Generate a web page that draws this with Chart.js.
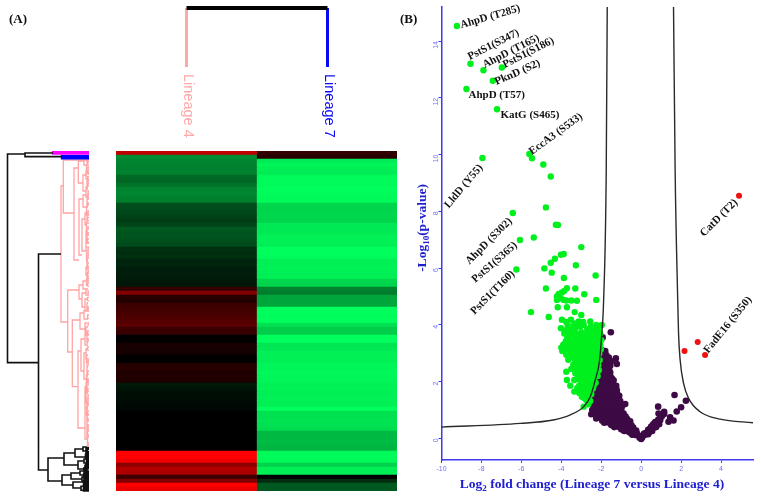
<!DOCTYPE html>
<html>
<head>
<meta charset="utf-8">
<title>Lineage 7 vs Lineage 4</title>
<script src="https://cdn.jsdelivr.net/npm/chart.js@4/dist/chart.umd.min.js"></script>
<style>
  html, body { margin: 0; background: #fff; }
  canvas { position: absolute; }
</style>
</head>
<body>
<canvas id="heat" width="281" height="340" style="left:116px;top:151px"></canvas>
<canvas id="rowTree" width="90" height="342" style="left:2px;top:151px"></canvas>
<canvas id="colTree" width="170" height="145" style="left:175px;top:0"></canvas>
<canvas id="volcano" width="361" height="499" style="left:400px;top:0"></canvas>
<canvas id="panelA" width="40" height="40" style="left:0;top:0"></canvas>
<script>
// heatmap rows: + is red, - is green
const lineage4 = [190,-140,-132,-130,-128,-130,-105,-102,-115,-130,-135,-130,-125,-78,-75,-72,-65,-60,-70,-90,-85,-85,-80,-75,-50,-45,-50,-35,-38,-30,-30,-28,-25,-22,
  55,130,40,35,60,65,70,75,85,90,60,55,0,0,25,22,20,0,0,35,40,30,35,30,-25,-20,-12,-15,-12,-10,-8,0,0,0,0,0,0,0,0,0,0,255,255,240,140,180,170,60,130,255,235];
const lineage7 = [50,40,-235,-245,-240,-235,-250,-252,-250,-255,-252,-250,-250,-215,-212,-215,-215,-212,-232,-232,-234,-240,-240,-238,-255,-255,-252,-240,-240,-242,-238,-240,-215,-212,
  -130,-125,-165,-165,-168,-255,-255,-252,-255,-225,-205,-205,-255,-255,-230,-232,-240,-240,-238,-245,-245,-248,-245,-245,-240,-242,-238,-240,-240,-240,-255,-225,-225,-228,-225,-222,-185,-185,-188,-185,-182,-250,-252,-248,-210,-240,-240,0,-45,-90,-88];
const columnNames = ['Lineage 4', 'Lineage 7'];

// row dendrogram nodes: [height, top row, bottom row, top child height, bottom child height]
const blackNodes = [[81.5,.75,52.9,64,50.5],[64,.5,1.4,36,27],[50.5,25.75,79.75,28,41],[41,76.75,82.5,25,27],[25,75.5,78.5,14,11],
  [14,74.5,76.5,6,3],[11,77.5,79.5,5,2],[6,74,75,2,1],[3,76,77,1,0],[5,77,78,1,0],[2,79,80.5,1,0],[27,81,83.5,18,16],[18,80.5,82,9,7],[16,82.75,84.25,5,8],
  [9,80,81,4,1],[7,81.5,82.5,3,1],[8,83.8,84.8,3,1],[5,82.4,83.2,2,1],[4,79.6,80.4,2,0],[3,74.2,75.2,0,0],[2,75.4,76.2,0,0],[2,76.4,77.4,0,0],[3,78.2,79,0,0],
  [4,80.2,81.4,0,0],[3.5,81.2,82.4,0,0],[4,82.2,83.2,0,0],[3.5,83,84,0,0],[4,83.6,84.8,0,0],[3,84,84.9,0,0],[2.5,77.6,78.8,0,0],[2,80.6,81.6,0,0],
  [3,74.6,75.6,0,0],[3.5,75.8,76.8,0,0],[2.5,77,77.8,0,0],[4,78.6,79.4,0,0],[5,79.2,80,0,0],[5,80,80.8,0,0],[5.5,80.8,81.6,0,0],[5,81.6,82.4,0,0],
  [5.5,82.6,83.4,0,0],[5,83.4,84.2,0,0],[5.5,84.2,85,0,0],[5,80.4,81.2,0,0],[4.5,82,82.8,0,0],[4.5,83.2,84,0,0],[4.5,84,84.6,0,0]];
const pinkNodes = [[28,8.75,42.75,25.7,21.3],[25.7,2.25,15.5,1,15],[15,4.25,27.25,10.7,10],[10.7,2.5,8,5,6],[5,1.75,3.5,1,2],[6,6,10,2,3],[10,12,26,6,7],
  [6,11,14,3,2],[7,17,25,4,3],[4,15.5,18.5,1,2],[3,20,24,1,2],[21.3,34.75,50.25,10,16.7],[10,33.5,37,6,7],[6,32.5,34.5,3,2],[7,35.5,39,3,4],[3,34.5,36,1,0],
  [4,37,40,2,1],[16.7,42.25,58.9,9,11],[9,40.5,44.5,5,4],[5,40,42,2,1],[4,43,46,2,1],[11,50,69.25,8,4],[8,47,55,4,5],[4,45.5,48.5,2,1],[5,50.5,57,3,2],
  [3,49.5,52,1,0],[2,54,58,1,0],[4,59,72,3,2],[3,58,63,1,2],[2,65,70,1,0],[1.5,69,74,0,1],[2,1.5,3,0,1],[2.5,3.5,5.5,1,0],[3,5,7,1,0],[2,7.5,9.5,0,1],
  [3,9,11.5,1,0],[2,12,14,0,1],[2.5,14,16,1,0],[2,16,18,0,1],[2.5,18,20.5,0,1],[2,21,23,1,0],[3,23,25,1,0],[2.5,25.5,27.5,0,1],[2,27,29.5,1,0],[3,29,31,0,1],
  [2,30.5,32.5,1,0],[2.5,32,33.5,0,1],[2,38,40,1,0],[3,44,46,1,0],[2,46,48,0,1],[2.5,51,53,1,0],[2,53.5,55.5,0,1],[2.5,56,58,1,0],[2,58.5,60.5,0,1],[3,60,62,1,0],
  [2,62.5,64.5,0,1],[2.5,64,66,1,0],[2,66.5,68.5,1,0],[2,70,72,0,1],[1.5,72,74,1,0],
  [1,2,2.6,0,0],[1.5,2.8,3.4,0,0],[1,4,4.8,0,0],[1,5.2,5.8,0,0],[1.5,6.4,7.2,0,0],[1,8,8.8,0,0],[1,10,10.6,0,0],[1.5,11,11.8,0,0],[1,13,13.6,0,0],[1,15,15.8,0,0],
  [1.5,16.6,17.4,0,0],[1,19,19.6,0,0],[1,20.4,21,0,0],[1.5,22,22.8,0,0],[1,24,24.6,0,0],[1,26,26.8,0,0],[1.5,28,28.8,0,0],[1,30,30.6,0,0],[1,31.2,32,0,0],[1.5,33,33.8,0,0],
  [1,35,35.6,0,0],[1.5,36.6,37.4,0,0],[1,39,39.6,0,0],[1.5,41,41.8,0,0],[1,43,43.6,0,0],[1.5,45,45.8,0,0],[1,47,47.6,0,0],[1.5,49,49.8,0,0],[1,52.4,53,0,0],[1.5,55,55.8,0,0],
  [1,57,57.6,0,0],[1.5,59.4,60,0,0],[1,61,61.8,0,0],[1,63,63.6,0,0],[1.5,65,65.8,0,0],[1,67,67.6,0,0],[1,69,69.8,0,0],[1,71,71.6,0,0],[1,73,73.6,0,0]];
const magentaNodes = [[36,.1,.65,0,0]];
const blueNodes = [[27,1.3,1.8,0,0]];

// volcano plot, [log2 fold change, -log10 p]
const greenPoints = [[-9.23,14.53],[-8.55,13.2],[-7.9,12.97],[-6.98,13.07],[-7.43,12.6],[-8.75,12.31],[-7.22,11.6],[-5.6,10.02],[-5.47,9.87],[-4.9,9.65],[-7.95,9.88],
  [-4.53,9.23],[-4.77,8.14],[-6.43,7.94],[-4.27,7.53],[-4.17,7.52],[-5.38,7.08],[-6.07,6.99],[-3,6.74],[-3.88,6.5],[-4.02,6.47],[-4.32,6.33],[-4.53,6.19],[-3.27,6.1],
  [-4.85,5.99],[-6.25,5.95],[-4.48,5.84],[-2.28,5.74],[-3.87,5.65],[-4.77,5.28],[-3.3,5.28],[-3.72,5.29],[-3.85,5.2],[-3.97,5.14],[-4.13,5.09],[-4.22,5],[-4.05,4.94],
  [-3.88,4.88],[-4.22,4.88],[-3.75,4.86],[-3.5,4.86],[-3.22,4.85],[-2.85,5.08],[-2.25,4.88],[-4.18,4.62],[-3.72,4.62],[-3.33,4.45],[-5.52,4.45],[-4.63,4.28],[-3,4.35],
  [-3.97,4.18],[-3.52,4.18],[-3.13,4.12],[-2.55,4.12],[-2.25,4],[-1.97,4],[-3.68,3.96],[-4.02,3.88],[-3.55,3.82],[-3.3,3.88],[-3.05,3.94],[-2.88,4],[-2.52,3.94],
  [-3.85,3.7],[-3.5,3.72],[-3.25,3.68],[-3,3.74],[-2.75,3.7],[-2.5,3.72],[-2.25,3.66],[-2.05,3.7],[-3.7,3.52],[-3.4,3.48],[-3.15,3.54],[-2.9,3.5],[-2.65,3.46],[-2.4,3.52],[-2.15,3.5],[-2,3.47],
  [-3.9,3.3],[-3.6,3.32],[-3.3,3.28],[-3.05,3.34],[-2.8,3.3],[-2.55,3.26],[-2.3,3.32],[-2.05,3.3],[-4,3.2],[-3.95,3.08],[-3.55,3.1],[-3.25,3.14],[-3,3.06],[-2.75,3.12],[-2.5,3.08],[-2.25,3.1],[-2.02,3.14],
  [-3.75,2.95],[-3.45,2.92],[-3.2,2.98],[-2.9,2.94],[-2.65,2.9],[-2.4,2.96],[-2.15,2.94],[-3.65,2.77],[-3.3,2.8],[-3.05,2.76],[-2.8,2.82],[-2.55,2.78],[-2.3,2.8],[-2.08,2.76],
  [-3.4,2.6],[-3.15,2.64],[-2.9,2.58],[-2.65,2.62],[-2.4,2.6],[-2.15,2.58],[-3.5,2.45],[-3.25,2.42],[-3,2.47],[-2.75,2.44],[-2.5,2.42],[-2.25,2.46],[-2.12,2.4],
  [-3.75,2.35],[-3.3,2.3],[-3.05,2.28],[-2.8,2.32],[-2.55,2.27],[-2.3,2.3],[-3.1,2.15],[-2.85,2.12],[-2.6,2.17],[-2.35,2.14],[-2.18,2.2],[-3.72,2.06],[-3.35,2.06],[-3,2],[-2.75,1.97],[-2.5,2.02],[-2.28,1.96],
  [-3.55,1.86],[-3.1,1.87],[-2.85,1.84],[-2.6,1.82],[-2.38,1.86],[-3.35,1.65],[-3,1.7],[-2.75,1.68],[-2.5,1.72],[-2.97,1.47],[-2.7,1.52],[-2.5,1.56],[-2.75,1.35],[-2.55,1.32],[-2.88,1.12],[-2.65,1.2],
  [-3.7,3.62],[-3.42,3.62],[-3.12,3.6],[-2.87,3.62],[-2.62,3.6],[-2.37,3.62],[-2.13,3.6],[-3.78,3.42],[-3.52,3.4],[-3.25,3.42],[-2.98,3.4],[-2.72,3.42],[-2.47,3.4],[-2.22,3.42],
  [-3.75,3.2],[-3.45,3.2],[-3.15,3.22],[-2.92,3.2],[-2.67,3.2],[-2.42,3.22],[-2.17,3.2],[-3.7,3.02],[-3.35,3.02],[-3.1,3],[-2.85,3.02],[-2.58,3],[-2.32,3.02],[-2.1,3],
  [-3.55,2.85],[-3.2,2.86],[-2.95,2.85],[-2.7,2.86],[-2.45,2.85],[-2.2,2.86],[-3.3,2.7],[-3,2.7],[-2.75,2.7],[-2.48,2.7],[-2.22,2.68],[-3.3,2.52],[-3.05,2.54],[-2.8,2.52],[-2.55,2.52],[-2.3,2.52],
  [-3.15,2.37],[-2.9,2.38],[-2.65,2.37],[-2.4,2.37],[-3,2.22],[-2.72,2.22],[-2.47,2.22],[-2.25,2.25],[-3.2,2.1],[-2.9,2.06],[-2.65,2.07],[-2.4,2.06],[-2.95,1.92],[-2.7,1.9],[-2.48,1.9],
  [-3.2,1.78],[-2.9,1.76],[-2.65,1.76],[-2.42,1.76],[-3.1,1.6],[-2.85,1.6],[-2.6,1.62],[-2.85,1.42],[-2.62,1.43],[-3.75,4.1],[-3.3,4.05],[-2.9,4.1],[-3.8,3.8],[-3.45,3.95],[-2.7,3.85],[-2.4,3.85],[-2.15,3.85]];
const purplePoints = [[-1.52,3.74],[-1.93,3.56],[-1.27,2.82],[-1.22,2.62],[1.67,1.53],[2.24,1.33],[2,1.1],[1.78,.95],[.85,1.12],[1.15,.94],[-.8,1.21],
  [-1.98,3.12],[-1.8,3.08],[-1.95,2.98],[-1.75,2.94],[-1.9,2.8],[-1.7,2.78],[-1.5,2.72],[-1.95,2.6],[-1.75,2.62],[-1.55,2.56],[-2.05,2.42],[-1.85,2.4],[-1.6,2.41],
  [-2.15,2.22],[-1.95,2.2],[-1.75,2.18],[-1.55,2.2],[-1.47,2.12],[-2.25,2],[-2,2.02],[-1.8,1.98],[-1.6,2.02],[-1.42,1.96],[-2.3,1.8],[-2.1,1.82],[-1.9,1.78],[-1.7,1.82],[-1.5,1.8],[-1.3,1.78],[-1.22,1.7],
  [-2.4,1.6],[-2.2,1.62],[-2,1.58],[-1.8,1.62],[-1.6,1.6],[-1.4,1.58],[-1.2,1.56],[-2.35,1.4],[-2.15,1.42],[-1.95,1.38],[-1.75,1.42],[-1.55,1.4],[-1.35,1.38],[-1.15,1.42],
  [-2.45,1.2],[-2.3,1.22],[-2.1,1.18],[-1.9,1.2],[-1.7,1.22],[-1.5,1.18],[-1.3,1.2],[-1.12,1.22],[-2.45,1],[-2.2,1.02],[-2,.98],[-1.8,1.02],[-1.6,1],[-1.4,1.02],[-1.2,.98],[-1,1],[-.88,.88],
  [-2.5,.85],[-2.3,.84],[-2.1,.86],[-1.85,.83],[-1.65,.86],[-1.45,.84],[-1.25,.86],[-1.05,.84],[-.9,.82],[-2.25,.7],[-2.05,.72],[-1.85,.68],[-1.65,.7],[-1.45,.72],[-1.25,.68],[-1.05,.7],[-.85,.72],[-.7,.68],
  [-1.85,.55],[-1.65,.56],[-1.4,.53],[-1.2,.56],[-1,.54],[-.8,.56],[-.6,.55],[-1.35,.4],[-1.15,.41],[-.95,.38],[-.75,.41],[-.55,.4],[-.4,.38],[-.85,.26],[-.65,.24],[-.45,.27],[-.3,.24],[-.45,.13],[-.3,.12],[-.15,.1],
  [-.08,.02],[0,-.02],[.05,.03],[.1,.1],[.2,.13],[.25,.2],[.4,.22],[.55,.26],[.45,.35],[.6,.37],[.75,.4],[.6,.5],[.75,.52],[.9,.5],[.85,.66],[.95,.64],[.87,.88],[1.15,.86],[1.45,.74],[1.37,.59],[1.62,.63],[1.03,.77],[.95,.74],
  [-1.88,3.02],[-1.8,2.86],[-1.62,2.85],[-1.85,2.7],[-1.62,2.68],[-1.9,2.5],[-1.65,2.5],[-2,2.32],[-1.75,2.3],[-1.55,2.32],[-2.1,2.1],[-1.85,2.1],[-1.65,2.1],[-1.38,2.05],
  [-2.18,1.9],[-2,1.9],[-1.8,1.9],[-1.6,1.9],[-1.4,1.88],[-1.25,1.85],[-2.3,1.7],[-2.1,1.7],[-1.9,1.7],[-1.7,1.7],[-1.5,1.7],[-1.35,1.68],[-2.3,1.5],[-2.1,1.5],[-1.9,1.5],[-1.7,1.5],[-1.5,1.5],[-1.28,1.5],[-1.1,1.5],
  [-2.4,1.3],[-2.25,1.3],[-2.05,1.3],[-1.85,1.3],[-1.65,1.3],[-1.45,1.3],[-1.25,1.3],[-1.05,1.32],[-2.35,1.1],[-2.15,1.1],[-1.95,1.1],[-1.75,1.1],[-1.55,1.1],[-1.35,1.1],[-1.12,1.1],[-.98,1.1],
  [-2.4,.92],[-2.1,.93],[-1.9,.93],[-1.7,.93],[-1.5,.93],[-1.3,.93],[-1.1,.92],[-2.15,.78],[-1.95,.78],[-1.75,.78],[-1.55,.78],[-1.35,.78],[-1.15,.78],[-.95,.78],[-.78,.77],
  [-1.95,.62],[-1.75,.62],[-1.55,.62],[-1.3,.62],[-1.1,.62],[-.9,.62],[-.7,.62],[-.55,.6],[-1.5,.47],[-1.28,.47],[-1.05,.47],[-.85,.47],[-.65,.47],[-.48,.45],[-1,.32],[-.8,.32],[-.6,.32],[-.4,.32],[-.25,.28],
  [-.55,.2],[-.35,.19],[-.2,.16],[.15,.17],[.35,.3],[.5,.42],[.68,.45],[.82,.58],[.7,.58],[.35,.15]];
const redPoints = [[2.17,3.08],[2.83,3.4],[3.2,2.94],[4.9,8.55]];
const leftCurve = [[-1.7,15.2],[-1.75,9.47],[-1.88,4.88],[-1.97,3.72],[-2.08,2.77],[-2.3,2.06],[-2.55,1.47],[-2.88,1.12],[-3.55,.83],[-4.4,.65],[-6.05,.53],[-10,.4]];
const rightCurve = [[1.62,15.2],[1.7,9.47],[1.83,4.88],[1.87,3.72],[1.95,2.77],[2.12,1.95],[2.37,1.42],[2.95,.94],[3.95,.68],[5.6,.55]];

const xTicks = [-10, -8, -6, -4, -2, 0, 2, 4];
const yTicks = [0, 2, 4, 6, 8, 10, 12, 14];

const labelTexts = ['AhpD (T285)', 'PstS1(S347)', 'AhpD (T165)', 'PstS1(S186)', 'PknD (S2)', 'AhpD (T57)', 'KatG (S465)', 'EccA3 (S533)', 'LldD (Y55)', 'AhpD (S302)', 'PstS1(S365)', 'PstS1(T160)', 'CatD (T2)', 'FadE16 (S350)'];
const labelX = [-9.05, -8.65, -7.9, -6.9, -7.3, -8.65, -7.05, -5.55, -9.75, -8.7, -8.4, -8.45, 3.05, 3.25];
const labelY = [14.55, 13.42, 13.14, 13.14, 12.54, 12.11, 11.4, 10.07, 8.16, 6.19, 5.55, 4.42, 7.17, 3.05];
const labelAngle = [-16, -27, -27, -27, -24, 0, 0, -36, -50, -45, -41, -45, -45, -51];

const serif = '"Liberation Serif", serif';
const sans = '"Liberation Sans", sans-serif';

function heatColor(v) {
  if (v >= 0) return `rgb(${v},0,0)`;
  return `rgb(0,${-v},${Math.round(-v * 0.36)})`;
}

function toPath(nodes) {
  const path = [];
  for (const [h, top, bottom, hTop, hBottom] of nodes) {
    path.push({x: hTop, y: top}, {x: h, y: top}, {x: h, y: bottom}, {x: hBottom, y: bottom}, {x: NaN, y: NaN});
  }
  return path;
}

function toXY(pairs) {
  return pairs.map(p => ({x: p[0], y: p[1]}));
}

// text with subscript pieces, centred on (cx, cy)
function drawRuns(ctx, cx, cy, angle, runs, color) {
  ctx.save();
  ctx.translate(cx, cy);
  ctx.rotate(angle * Math.PI / 180);
  ctx.fillStyle = color;
  ctx.textBaseline = 'alphabetic';
  ctx.textAlign = 'left';
  let total = 0;
  for (const r of runs) {
    ctx.font = `bold ${r[1] ? 9 : 13.5}px ${serif}`;
    total += ctx.measureText(r[0]).width;
  }
  let x = -total / 2;
  for (const r of runs) {
    ctx.font = `bold ${r[1] ? 9 : 13.5}px ${serif}`;
    ctx.fillText(r[0], x, r[1] ? 3 : 0);
    x += ctx.measureText(r[0]).width;
  }
  ctx.restore();
}

function flatScale(min, max, reverse) {
  return {type: 'linear', display: false, min: min, max: max, reverse: !!reverse};
}

const common = {
  responsive: false,
  animation: false,
  plugins: {legend: {display: false}, tooltip: {enabled: false}}
};

new Chart(document.getElementById('heat'), {
  type: 'bar',
  data: {
    labels: lineage4.map((v, i) => i),
    datasets: [
      {label: columnNames[0], data: lineage4.map(() => 1), backgroundColor: lineage4.map(heatColor)},
      {label: columnNames[1], data: lineage7.map(() => 1), backgroundColor: lineage7.map(heatColor)}
    ]
  },
  options: {
    ...common,
    indexAxis: 'y',
    layout: {padding: 0},
    barPercentage: 1,
    categoryPercentage: 1,
    borderWidth: 0,
    scales: {
      x: {stacked: true, display: false, min: 0, max: 2},
      y: {stacked: true, display: false}
    }
  }
});

function treeSet(nodes, color, width) {
  return {data: toPath(nodes), showLine: true, borderColor: color, borderWidth: width, pointRadius: 0, spanGaps: false, clip: false, tension: 0};
}

new Chart(document.getElementById('rowTree'), {
  type: 'scatter',
  data: {
    datasets: [
      treeSet(blackNodes, '#111', 1.6),
      treeSet(magentaNodes, '#ff00ff', 2.4),
      treeSet(blueNodes, '#0000ff', 2.4),
      treeSet(pinkNodes, '#ffa3a3', 1.3)
    ]
  },
  options: {
    ...common,
    layout: {padding: {left: 2, right: 3, top: 0, bottom: 2}},
    scales: {x: flatScale(0, 85, true), y: flatScale(0, 85, true)}
  }
});

new Chart(document.getElementById('colTree'), {
  type: 'scatter',
  data: {
    datasets: [
      {data: [{x: 0, y: 1}, {x: 1, y: 1}], showLine: true, borderColor: '#000', borderWidth: 4, pointRadius: 0, clip: false},
      {data: [{x: 0, y: 1}, {x: 0, y: 0}], showLine: true, borderColor: '#ffa8a8', borderWidth: 3, pointRadius: 0, clip: false},
      {data: [{x: 1, y: 1}, {x: 1, y: 0}], showLine: true, borderColor: '#0a0af0', borderWidth: 3, pointRadius: 0, clip: false}
    ]
  },
  options: {
    ...common,
    layout: {padding: {left: 11.5, right: 17.5, top: 8, bottom: 78}},
    scales: {x: flatScale(0, 1), y: flatScale(0, 1)}
  },
  plugins: [{
    id: 'lineageNames',
    afterDatasetsDraw(chart) {
      const ctx = chart.ctx;
      const colors = ['#ffa8a8', '#0a0af0'];
      columnNames.forEach((name, i) => {
        ctx.save();
        ctx.translate(chart.scales.x.getPixelForValue(i) + 1, 74);
        ctx.rotate(Math.PI / 2);
        ctx.font = `14.5px ${sans}`;
        ctx.fillStyle = colors[i];
        ctx.textBaseline = 'middle';
        ctx.fillText(name, 0, 0);
        ctx.restore();
      });
    }
  }]
});

new Chart(document.getElementById('panelA'), {
  type: 'scatter',
  data: {datasets: []},
  options: {...common, scales: {x: {display: false}, y: {display: false}}},
  plugins: [{
    id: 'panelLetter',
    afterDraw(chart) {
      const ctx = chart.ctx;
      ctx.font = `bold 13px ${serif}`;
      ctx.fillStyle = '#111';
      ctx.textBaseline = 'middle';
      ctx.fillText('(A)', 9, 20);
    }
  }]
});

const pointSet = (pairs, color, r, order) => ({data: toXY(pairs), backgroundColor: color, borderWidth: 0, pointRadius: r, order: order, clip: false});
const curveSet = pairs => ({data: toXY(pairs), showLine: true, borderColor: '#2a2a2a', borderWidth: 1.4, pointRadius: 0, cubicInterpolationMode: 'monotone', order: 0, clip: false});

function axisOptions(min, max, ticks, extra) {
  return {
    type: 'linear',
    min: min,
    max: max,
    afterBuildTicks(scale) { scale.ticks = ticks.map(v => ({value: v})); },
    border: {color: '#3a3aee', width: 1.5},
    grid: {drawOnChartArea: false, drawTicks: true, tickLength: 3, color: '#3a3aee'},
    ticks: {color: '#6f6fff', font: {size: 7, family: sans}, padding: 2, ...extra},
  };
}

new Chart(document.getElementById('volcano'), {
  type: 'scatter',
  data: {
    datasets: [
      curveSet(leftCurve),
      curveSet(rightCurve),
      pointSet(redPoints, '#f01010', 3, 1),
      pointSet(greenPoints, '#00f01e', 3.2, 1),
      pointSet(purplePoints, '#3d0a45', 3.3, 2)
    ]
  },
  options: {
    ...common,
    layout: {padding: {left: 19.5, right: 8, top: 7, bottom: 17}},
    scales: {
      x: {...axisOptions(-10, 5.6, xTicks, {maxRotation: 0, minRotation: 0}), afterFit(s) { s.height = 22; }},
      y: {...axisOptions(-.76, 15.2, yTicks, {minRotation: 90, maxRotation: 90}), afterFit(s) { s.width = 22; }}
    }
  },
  plugins: [{
    id: 'volcanoText',
    afterDatasetsDraw(chart) {
      const ctx = chart.ctx;
      const {x, y} = chart.scales;
      labelTexts.forEach((text, i) => {
        ctx.save();
        ctx.translate(x.getPixelForValue(labelX[i]), y.getPixelForValue(labelY[i]));
        ctx.rotate(labelAngle[i] * Math.PI / 180);
        ctx.font = `bold 11px ${serif}`;
        ctx.fillStyle = '#111';
        ctx.textBaseline = 'middle';
        ctx.fillText(text, 0, 0);
        ctx.restore();
      });
      ctx.font = `bold 13px ${serif}`;
      ctx.fillStyle = '#111';
      ctx.textBaseline = 'middle';
      ctx.fillText('(B)', 0, 20);
      drawRuns(ctx, 192, 488, 0, [['Log', 0], ['2', 1], [' fold change (Lineage 7 versus Lineage 4)', 0]], '#2020d0');
      drawRuns(ctx, 26, 228, -90, [['-Log', 0], ['10', 1], ['(p-value)', 0]], '#2020d0');
    }
  }]
});
</script>
</body>
</html>
